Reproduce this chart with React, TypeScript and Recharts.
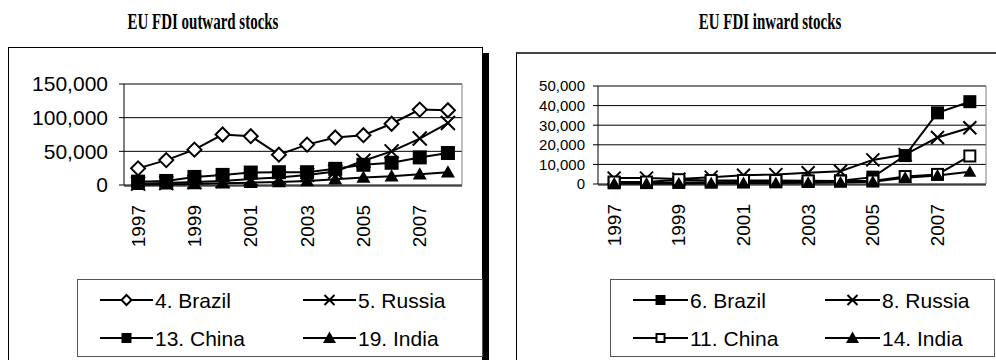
import React from 'react';
import { LineChart, Line, XAxis, YAxis, CartesianGrid } from 'recharts';

// Categories
const years = ['1997', '1998', '1999', '2000', '2001', '2002', '2003', '2004', '2005', '2006', '2007', '2008'];

// EU FDI outward stocks
const brazilOut = [24700, 37000, 52500, 75000, 72500, 45000, 60000, 70500, 74000, 91000, 112000, 111000];
const russiaOut = [2000, 3000, 4500, 6000, 9000, 11000, 15000, 20000, 36000, 50000, 69000, 92000];
const chinaOut = [5000, 6000, 12000, 15000, 18500, 19000, 19000, 24000, 30000, 33000, 41000, 47500];
const indiaOut = [500, 1000, 1500, 2500, 3500, 4500, 6000, 8500, 11000, 13000, 16000, 19000];

// EU FDI inward stocks
const brazilIn = [600, 700, 800, 900, 1000, 1100, 1300, 1600, 3500, 14500, 36300, 42000];
const russiaIn = [3000, 3000, 2500, 3500, 4500, 4800, 5700, 6500, 12300, 15000, 23700, 28700];
const chinaIn = [1000, 1000, 2200, 1800, 1800, 1800, 1600, 1500, 1500, 3800, 4900, 14300];
const indiaIn = [200, 200, 300, 400, 500, 500, 600, 800, 1200, 3200, 4300, 6200];

// Axis ticks
const outwardTicks = [0, 50000, 100000, 150000];
const inwardTicks = [0, 10000, 20000, 30000, 40000, 50000];

type MarkerKind = 'diamond' | 'x' | 'square' | 'openSquare' | 'triangle';

interface SeriesDef {
  key: string;
  label: string;
  marker: MarkerKind;
  values: number[];
}

const outwardSeries: SeriesDef[] = [
  { key: 'brazil', label: '4. Brazil', marker: 'diamond', values: brazilOut },
  { key: 'russia', label: '5. Russia', marker: 'x', values: russiaOut },
  { key: 'china', label: '13. China', marker: 'square', values: chinaOut },
  { key: 'india', label: '19. India', marker: 'triangle', values: indiaOut },
];

const inwardSeries: SeriesDef[] = [
  { key: 'brazil', label: '6. Brazil', marker: 'square', values: brazilIn },
  { key: 'russia', label: '8. Russia', marker: 'x', values: russiaIn },
  { key: 'china', label: '11. China', marker: 'openSquare', values: chinaIn },
  { key: 'india', label: '14. India', marker: 'triangle', values: indiaIn },
];

const buildRows = (series: SeriesDef[]) =>
  years.map((year, i) => {
    const row: Record<string, string | number> = { year };
    series.forEach((s) => {
      row[s.key] = s.values[i];
    });
    return row;
  });

const outwardRows = buildRows(outwardSeries);
const inwardRows = buildRows(inwardSeries);
const edgeTicks = years.map((_, i) => i).concat([years.length]);

const SANS = '"Liberation Sans", Arial, sans-serif';
const SERIF = '"Liberation Serif", "Times New Roman", serif';

function Marker({ kind, cx, cy, size }: { kind: MarkerKind; cx: number; cy: number; size: number }) {
  const h = size / 2;
  switch (kind) {
    case 'diamond':
      return (
        <path
          d={`M${cx},${cy - h}L${cx + h},${cy}L${cx},${cy + h}L${cx - h},${cy}Z`}
          fill="#fff"
          stroke="#000"
          strokeWidth={2}
        />
      );
    case 'x':
      return (
        <path
          d={`M${cx - h},${cy - h}L${cx + h},${cy + h}M${cx + h},${cy - h}L${cx - h},${cy + h}`}
          fill="none"
          stroke="#000"
          strokeWidth={2}
        />
      );
    case 'square':
      return <rect x={cx - h} y={cy - h} width={size} height={size} fill="#000" />;
    case 'openSquare':
      return (
        <rect x={cx - h + 1} y={cy - h + 1} width={size - 2} height={size - 2} fill="#fff" stroke="#000" strokeWidth={2} />
      );
    case 'triangle':
    default:
      return <path d={`M${cx},${cy - h}L${cx + h},${cy + h * 0.75}L${cx - h},${cy + h * 0.75}Z`} fill="#000" />;
  }
}

const YearTick = (props: any) => {
  const { x, y, payload } = props;
  const ty = y + 20;
  return (
    <text
      x={x}
      y={ty}
      transform={`rotate(-90 ${x} ${ty})`}
      textAnchor="end"
      dominantBaseline="central"
      fontSize={19}
      fontFamily={SANS}
      fill="#000"
    >
      {payload.value}
    </text>
  );
};

const fmt = (v: number) => v.toLocaleString('en-US');

interface PanelProps {
  rows: Record<string, string | number>[];
  series: SeriesDef[];
  ticks: number[];
  width: number;
  height: number;
  margin: { top: number; right: number; bottom: number; left: number };
  yFont: number;
  yTickMargin: number;
  markerSize: number;
}

function Panel({ rows, series, ticks, width, height, margin, yFont, yTickMargin, markerSize }: PanelProps) {
  const max = ticks[ticks.length - 1];
  return (
    <LineChart width={width} height={height} data={rows} margin={margin}>
      <CartesianGrid horizontal vertical={false} stroke="#000" strokeWidth={1} />
      <XAxis
        xAxisId="edges"
        type="number"
        domain={[0, years.length]}
        allowDataOverflow
        ticks={edgeTicks}
        height={1}
        tickSize={5}
        tick={false}
        tickLine={{ stroke: '#000' }}
        axisLine={{ stroke: '#000' }}
      />
      <XAxis
        dataKey="year"
        scale="band"
        height={1}
        interval={1}
        tickSize={0}
        tickMargin={0}
        tickLine={false}
        axisLine={false}
        tick={<YearTick />}
      />
      <XAxis
        xAxisId="top"
        orientation="top"
        dataKey="year"
        height={1}
        tick={false}
        tickLine={false}
        axisLine={{ stroke: '#808080' }}
      />
      <YAxis
        domain={[0, max]}
        ticks={ticks}
        interval={0}
        width={1}
        tickSize={5}
        tickMargin={yTickMargin}
        tickLine={{ stroke: '#000' }}
        axisLine={{ stroke: '#000' }}
        tickFormatter={fmt}
        tick={{ fill: '#000', fontSize: yFont, fontFamily: SANS }}
      />
      <YAxis
        yAxisId="right"
        orientation="right"
        domain={[0, max]}
        width={1}
        tick={false}
        tickLine={false}
        axisLine={{ stroke: '#808080' }}
      />
      {series.map((s) => (
        <Line
          key={s.key}
          dataKey={s.key}
          type="linear"
          stroke="#000"
          strokeWidth={2}
          isAnimationActive={false}
          activeDot={false}
          dot={(p: any) => <Marker key={`${s.key}-${p.index}`} kind={s.marker} cx={p.cx} cy={p.cy} size={markerSize} />}
        />
      ))}
    </LineChart>
  );
}

interface LegendProps {
  series: SeriesDef[];
  left: number;
  top: number;
  width: number;
  height: number;
  cols: { lineStart: number; lineEnd: number; text: number }[];
  rowsY: number[];
}

function LegendBox({ series, left, top, width, height, cols, rowsY }: LegendProps) {
  return (
    <div
      style={{
        position: 'absolute',
        left,
        top,
        width,
        height,
        border: '1px solid #555',
        background: '#fff',
        boxSizing: 'border-box',
      }}
    >
      <svg width={width} height={height} style={{ position: 'absolute', left: -1, top: -1 }}>
        {series.map((s, i) => {
          const c = cols[i % 2];
          const y = rowsY[Math.floor(i / 2)];
          const mid = (c.lineStart + c.lineEnd) / 2;
          return (
            <g key={s.key}>
              <line x1={c.lineStart} x2={c.lineEnd} y1={y} y2={y} stroke="#000" strokeWidth={2} />
              <Marker kind={s.marker} cx={mid} cy={y} size={s.marker === 'triangle' ? 13 : 10} />
              <text x={c.text} y={y} dominantBaseline="central" fontSize={21} fontFamily={SANS} fill="#000">
                {s.label}
              </text>
            </g>
          );
        })}
      </svg>
    </div>
  );
}

const titleStyle: React.CSSProperties = {
  position: 'absolute',
  top: 8,
  fontFamily: SERIF,
  fontWeight: 'bold',
  fontSize: 17,
  lineHeight: '20px',
  whiteSpace: 'nowrap',
  transform: 'translateX(-50%) scale(0.88, 1.4)',
  transformOrigin: 'center top',
};

export default function App() {
  return (
    <div style={{ position: 'absolute', left: 0, top: 0, width: 996, height: 360, overflow: 'hidden', background: '#fff' }}>
      <div style={{ ...titleStyle, left: 203 }}>EU FDI outward stocks</div>
      <div style={{ ...titleStyle, left: 770 }}>EU FDI inward stocks</div>

      {/* chart frames */}
      <div
        style={{
          position: 'absolute',
          left: 8,
          top: 47,
          width: 473,
          height: 400,
          border: '1px solid #000',
          boxShadow: '6px 6px 0 0 #000',
          background: '#fff',
        }}
      />
      <div
        style={{
          position: 'absolute',
          left: 516,
          top: 52,
          width: 600,
          height: 400,
          borderLeft: '1px solid #000',
          borderTop: '2px solid #444',
          background: '#fff',
        }}
      />

      <div style={{ position: 'absolute', left: 0, top: 0 }}>
        <Panel
          rows={outwardRows}
          series={outwardSeries}
          ticks={outwardTicks}
          width={500}
          height={270}
          margin={{ top: 83, right: 37, bottom: 83, left: 123 }}
          yFont={21}
          yTickMargin={11}
          markerSize={14}
        />
      </div>
      <div style={{ position: 'absolute', left: 500, top: 0 }}>
        <Panel
          rows={inwardRows}
          series={inwardSeries}
          ticks={inwardTicks}
          width={496}
          height={270}
          margin={{ top: 85, right: 9, bottom: 84, left: 97 }}
          yFont={15}
          yTickMargin={8}
          markerSize={13}
        />
      </div>

      <LegendBox
        series={outwardSeries}
        left={77}
        top={279}
        width={406}
        height={78}
        cols={[
          { lineStart: 23, lineEnd: 76, text: 78 },
          { lineStart: 226, lineEnd: 279, text: 281 },
        ]}
        rowsY={[21, 59]}
      />
      <LegendBox
        series={inwardSeries}
        left={610}
        top={279}
        width={385}
        height={78}
        cols={[
          { lineStart: 23, lineEnd: 78, text: 80 },
          { lineStart: 215, lineEnd: 270, text: 272 },
        ]}
        rowsY={[21, 59]}
      />
    </div>
  );
}
